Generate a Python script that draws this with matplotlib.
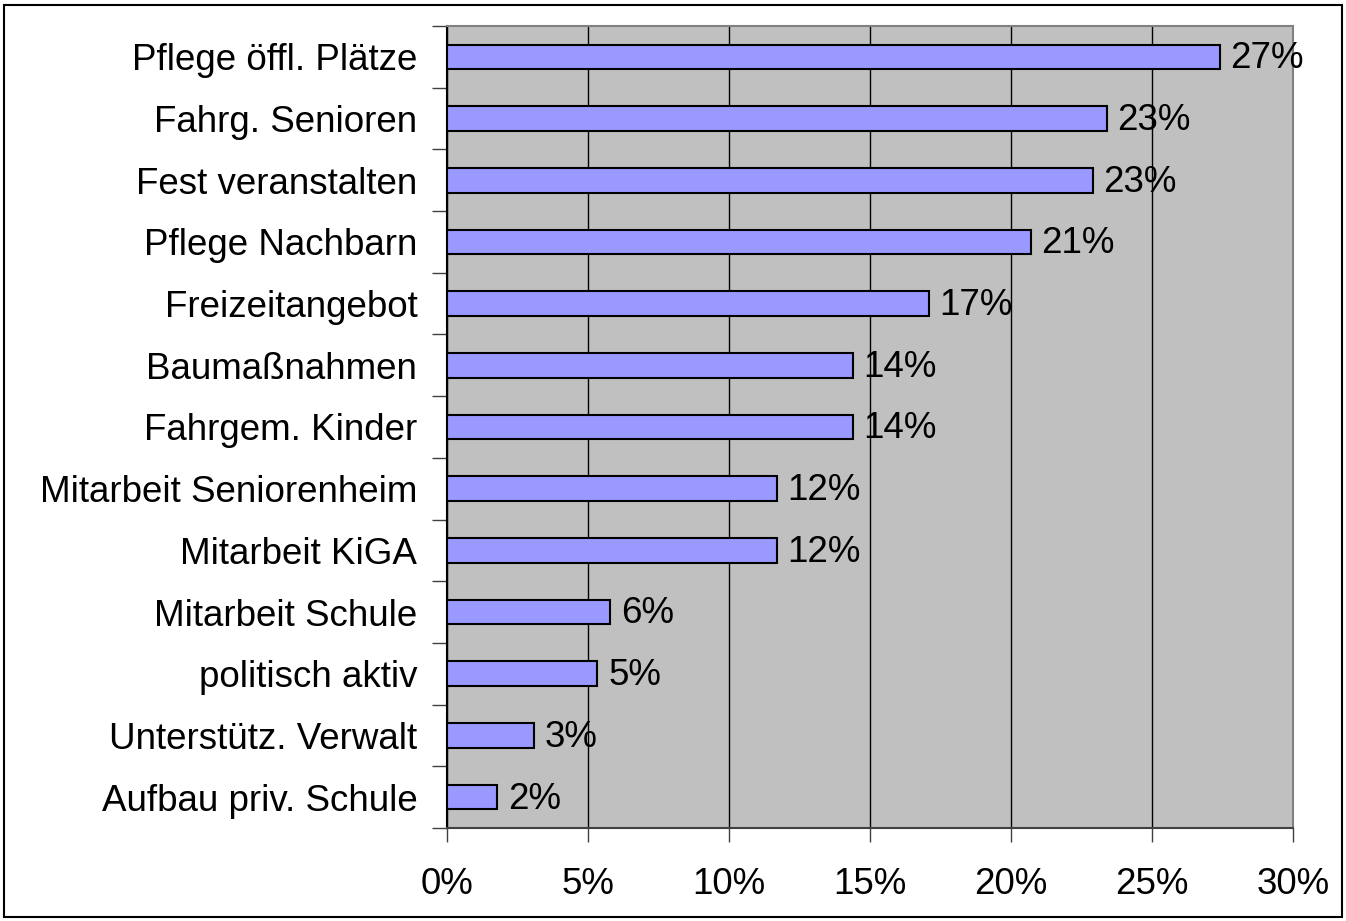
import numpy as np
import matplotlib.pyplot as plt
from matplotlib.patches import Rectangle

categories = ["Pflege öffl. Plätze", "Fahrg. Senioren", "Fest veranstalten",
              "Pflege Nachbarn", "Freizeitangebot", "Baumaßnahmen",
              "Fahrgem. Kinder", "Mitarbeit Seniorenheim", "Mitarbeit KiGA",
              "Mitarbeit Schule", "politisch aktiv", "Unterstütz. Verwalt",
              "Aufbau priv. Schule"]
values = [27.4, 23.4, 22.9, 20.7, 17.1, 14.4, 14.4, 11.7, 11.7, 5.8, 5.35, 3.1, 1.8]
value_labels = ["27%", "23%", "23%", "21%", "17%", "14%", "14%", "12%", "12%",
                "6%", "5%", "3%", "2%"]
xticks = [0, 5, 10, 15, 20, 25, 30]

plt.rcParams['font.family'] = ['Liberation Sans', 'DejaVu Sans']
fs = 26.5

fig = plt.figure(figsize=(13.46, 9.21), dpi=100)
fig.patches.append(Rectangle((4 / 1346, 4 / 921), 1338 / 1346, 912 / 921,
                             transform=fig.transFigure, fill=False,
                             edgecolor='black', linewidth=1.5))
ax = fig.add_axes([446.5 / 1346, 1 - 828 / 921, (1293 - 446.5) / 1346, (828 - 26) / 921])
ax.set_facecolor('#C0C0C0')

n = len(categories)
y = np.arange(n)
ax.barh(y, values, height=0.4, color='#9999FF', edgecolor='black', linewidth=1.5, zorder=3)
for yi, v, lab in zip(y, values, value_labels):
    ax.text(v + 0.38, yi + 0.03, lab, va='center', ha='left', fontsize=fs, zorder=4)

ax.set_xlim(0, 30)
ax.set_ylim(n - 0.5, -0.5)
ax.set_xticks(xticks)
ax.set_xticklabels([f"{t}%" for t in xticks], fontsize=fs)
ax.tick_params(axis='x', length=10, width=1, color='#404040', pad=18)
ax.xaxis.grid(True, color='black', linewidth=1, zorder=1)
ax.set_axisbelow(True)

ax.set_yticks(np.arange(n + 1) - 0.5)
ax.set_yticklabels([])
ax.tick_params(axis='y', which='major', length=11, width=1, color='#404040')
ax.set_yticks(y, minor=True)
ax.set_yticklabels(categories, minor=True, fontsize=fs)
ax.tick_params(axis='y', which='minor', length=0, pad=21)

for s in ['top', 'right']:
    ax.spines[s].set_color('#808080')
    ax.spines[s].set_linewidth(1.5)
ax.spines['left'].set_color('black')
ax.spines['left'].set_linewidth(1.5)
ax.spines['bottom'].set_color('#404040')
ax.spines['bottom'].set_linewidth(1.5)

fig.savefig('out.png', dpi=100)
